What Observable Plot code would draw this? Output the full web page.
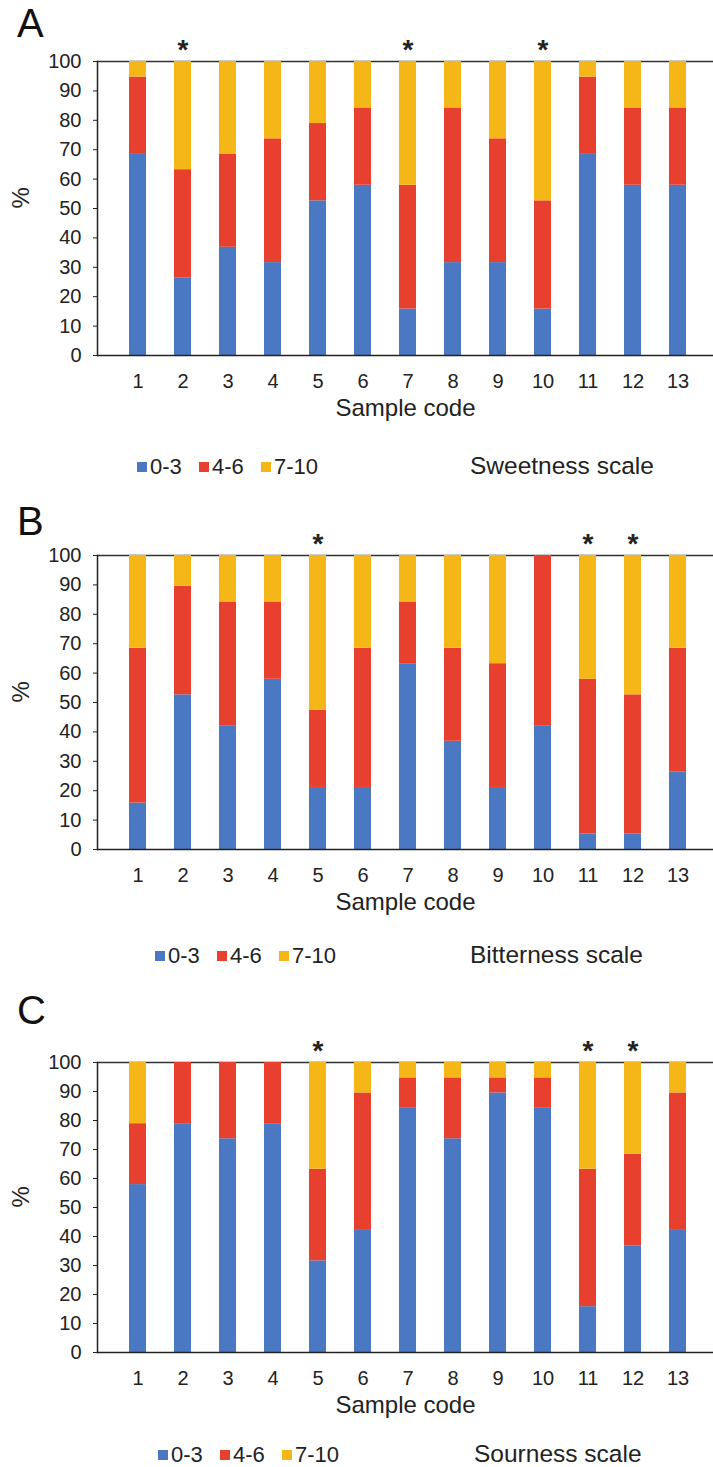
<!DOCTYPE html>
<html>
<head>
<meta charset="utf-8">
<script src="https://cdn.jsdelivr.net/npm/d3@7"></script>
<script src="https://cdn.jsdelivr.net/npm/@observablehq/plot@0.6"></script>
<style>
  html, body { margin: 0; padding: 0; background: #fff; }
  body { width: 713px; height: 1467px; position: relative; overflow: hidden; font-family: "Liberation Sans", Arial, sans-serif; color: #222; }
  .panel { position: absolute; left: 0; width: 713px; }
  .letter { position: absolute; left: 17px; font-size: 40px; font-family: "Liberation Sans", Arial, sans-serif; font-weight: 400; line-height: 1; color: #111; }
  .legend { position: absolute; height: 26px; width: 260px; font-size: 22px; line-height: 26px; }
  .legend .sw { position: absolute; top: 8px; width: 10px; height: 10px; }
  .legend .lab { position: absolute; top: 0; white-space: nowrap; }
  .scale { position: absolute; font-size: 24.5px; line-height: 1; white-space: nowrap; }
</style>
</head>
<body>
<script>
const samples = ["1","2","3","4","5","6","7","8","9","10","11","12","13"];
const groups = ["0-3", "4-6", "7-10"];
const colors = ["#4a78c2", "#e8402f", "#f5b618"];
const yTicks = [0,10,20,30,40,50,60,70,80,90,100];

// Panel A: Sweetness
const sweet03  = [68.4,26.3,36.8,31.6,52.6,57.9,15.8,31.6,31.6,15.8,68.4,57.9,57.9];
const sweet46  = [26.3,36.9,31.6,42.1,26.3,26.3,42.1,52.6,42.1,36.8,26.3,26.3,26.3];
const sweet710 = [5.3,36.8,31.6,26.3,21.1,15.8,42.1,15.8,26.3,47.4,5.3,15.8,15.8];
const sweetStars = ["2","7","10"];

// Panel B: Bitterness
const bitter03  = [15.8,52.6,42.1,57.9,21.1,21.1,63.2,36.8,21.1,42.1,5.3,5.3,26.3];
const bitter46  = [52.6,36.9,42.1,26.3,26.3,47.3,21.0,31.6,42.1,57.9,52.6,47.3,42.1];
const bitter710 = [31.6,10.5,15.8,15.8,52.6,31.6,15.8,31.6,36.8,0,42.1,47.4,31.6];
const bitterStars = ["5","11","12"];

// Panel C: Sourness
const sour03  = [57.9,78.9,73.7,78.9,31.6,42.1,84.2,73.7,89.5,84.2,15.8,36.8,42.1];
const sour46  = [21.0,21.1,26.3,21.1,31.6,47.4,10.5,21.0,5.2,10.5,47.4,31.6,47.4];
const sour710 = [21.1,0,0,0,36.8,10.5,5.3,5.3,5.3,5.3,36.8,31.6,10.5];
const sourStars = ["5","11","12"];

const fontFamily = '"Liberation Sans", Arial, sans-serif';
const legendOffsets = [0, 62, 124];

function makePanel({top, mt, ph, series, stars, letter, letterTop, scaleName, legendTop, legendLeft, scaleLeft}) {
  const data = [];
  samples.forEach((s, i) => {
    series.forEach((arr, g) => data.push({sample: s, group: groups[g], value: arr[i]}));
  });
  const div = document.createElement("div");
  div.className = "panel";
  div.style.top = top + "px";
  const mb = 80;
  const chart = Plot.plot({
    width: 713,
    height: mt + ph + mb,
    marginTop: mt,
    marginBottom: mb,
    marginLeft: 97,
    marginRight: 0,
    x: {domain: samples, range: [97, 718], padding: 0.623, label: null},
    y: {domain: [0, 100], label: null},
    color: {domain: groups, range: colors},
    style: {fontFamily, fontSize: "20px", color: "#222", background: "transparent", overflow: "visible"},
    marks: [
      Plot.ruleY([100], {stroke: "#333", strokeWidth: 1.5}),
      Plot.barY(data, {x: "sample", y: "value", fill: "group"}),
      Plot.ruleY([0], {stroke: "#222", strokeWidth: 1.5}),
      Plot.frame({anchor: "left", stroke: "#222", strokeWidth: 1.5}),
      Plot.axisX({tickSize: 0, tickPadding: 18, label: null, fontSize: 20}),
      Plot.axisY({ticks: yTicks, tickSize: 4, tickPadding: 12, label: null, fontSize: 20, stroke: "#222"}),
      Plot.text(["%"], {frameAnchor: "left", dx: -76, rotate: -90, fontSize: 24}),
      Plot.text(["Sample code"], {frameAnchor: "bottom", dx: 0, dy: 60, fontSize: 24}),
      Plot.text(stars, {x: d => d, y: 100, text: () => "*", dy: -11, fontSize: 28, fontWeight: "bold"})
    ]
  });
  div.appendChild(chart);

  const L = document.createElement("div");
  L.className = "letter";
  L.style.top = (letterTop - top) + "px";
  L.textContent = letter;
  div.appendChild(L);

  const leg = document.createElement("div");
  leg.className = "legend";
  leg.style.top = (legendTop - top - 13) + "px";
  leg.style.left = legendLeft + "px";
  groups.forEach((g, i) => {
    const sw = document.createElement("span");
    sw.className = "sw";
    sw.style.left = legendOffsets[i] + "px";
    sw.style.background = colors[i];
    leg.appendChild(sw);
    const lab = document.createElement("span");
    lab.className = "lab";
    lab.style.left = (legendOffsets[i] + 13) + "px";
    lab.textContent = g;
    leg.appendChild(lab);
  });
  div.appendChild(leg);

  const sc = document.createElement("div");
  sc.className = "scale";
  sc.style.top = (legendTop - top - 13) + "px";
  sc.style.left = scaleLeft + "px";
  sc.textContent = scaleName;
  div.appendChild(sc);

  document.body.appendChild(div);
}

makePanel({top: 0, mt: 61, ph: 294, series: [sweet03, sweet46, sweet710], stars: sweetStars,
  letter: "A", letterTop: 3, scaleName: "Sweetness scale", legendTop: 467, legendLeft: 137, scaleLeft: 470});
makePanel({top: 495, mt: 60, ph: 294, series: [bitter03, bitter46, bitter710], stars: bitterStars,
  letter: "B", letterTop: 501, scaleName: "Bitterness scale", legendTop: 956, legendLeft: 155, scaleLeft: 470});
makePanel({top: 995, mt: 67, ph: 290, series: [sour03, sour46, sour710], stars: sourStars,
  letter: "C", letterTop: 990, scaleName: "Sourness scale", legendTop: 1455, legendLeft: 158, scaleLeft: 474});
</script>
</body>
</html>
